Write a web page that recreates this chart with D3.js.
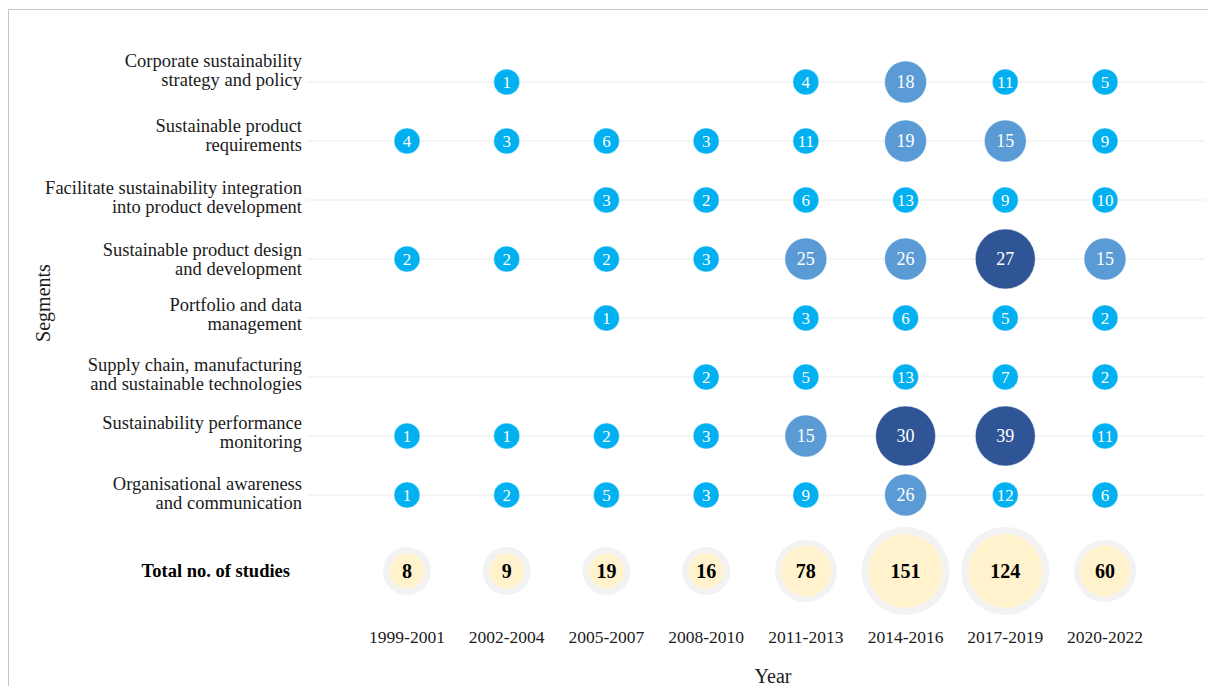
<!DOCTYPE html>
<html>
<head>
<meta charset="utf-8">
<script src="https://cdn.jsdelivr.net/npm/d3@7"></script>
<style>
  body { margin: 0; background: #fff; }
  svg { display: block; font-family: "Liberation Serif", "Times New Roman", serif; }
</style>
</head>
<body>
<svg id="chart"></svg>
<script>
// periods (x axis)
const years = ["1999-2001", "2002-2004", "2005-2007", "2008-2010", "2011-2013", "2014-2016", "2017-2019", "2020-2022"];

// segments (y axis), two lines each
const segments = [
    ["Corporate sustainability", "strategy and policy"],
    ["Sustainable product", "requirements"],
    ["Facilitate sustainability integration", "into product development"],
    ["Sustainable product design", "and development"],
    ["Portfolio and data", "management"],
    ["Supply chain, manufacturing", "and sustainable technologies"],
    ["Sustainability performance", "monitoring"],
    ["Organisational awareness", "and communication"]
];

// no. of studies per period, null = none
const corporateStrategy = [null, 1, null, null, 4, 18, 11, 5];
const productRequirements = [4, 3, 6, 3, 11, 19, 15, 9];
const integration = [null, null, 3, 2, 6, 13, 9, 10];
const designDevelopment = [2, 2, 2, 3, 25, 26, 27, 15];
const portfolioData = [null, null, 1, null, 3, 6, 5, 2];
const supplyChain = [null, null, null, 2, 5, 13, 7, 2];
const performanceMonitoring = [1, 1, 2, 3, 15, 30, 39, 11];
const awareness = [1, 2, 5, 3, 9, 26, 12, 6];

const totals = [8, 9, 19, 16, 78, 151, 124, 60];

const rows = [corporateStrategy, productRequirements, integration, designDevelopment,
    portfolioData, supplyChain, performanceMonitoring, awareness];

const width = 1208;
const height = 686;

const svg = d3.select("#chart")
    .attr("width", width)
    .attr("height", height);

// frame
svg.append("path")
    .attr("d", `M8.5,${height} V9.5 H${width}`)
    .attr("fill", "none")
    .attr("stroke", "#c4c4c4")
    .attr("stroke-width", 1);

const x = d3.scalePoint()
    .domain(years)
    .range([407, 1105]);

const y = d3.scalePoint()
    .domain(d3.range(segments.length))
    .range([82, 495]);

const totalY = 571;

// bubble size and colour classes
const r = d3.scaleThreshold()
    .domain([15, 27])
    .range([13, 21, 30]);

const color = d3.scaleThreshold()
    .domain([15, 27])
    .range(["#00b0f0", "#5b9bd5", "#2f5597"]);

const totalR = d3.scaleThreshold()
    .domain([50, 100])
    .range([24, 31, 44]);

const ring = d3.scaleThreshold()
    .domain([50, 100])
    .range([6.5, 5.5, 7]);

// grid lines
svg.append("g")
    .selectAll("line")
    .data(segments)
    .join("line")
    .attr("x1", 307)
    .attr("x2", 1205)
    .attr("y1", (d, i) => y(i))
    .attr("y2", (d, i) => y(i))
    .attr("stroke", "#f2f2f2")
    .attr("stroke-width", 1.5);

// segment labels (first one sits a bit higher in the original)
const labelShift = [-10, -4, -1, 2, -2, -1, -2, 0];

const labels = svg.append("g")
    .selectAll("text")
    .data(segments)
    .join("text")
    .attr("text-anchor", "end")
    .attr("font-size", 18.5)
    .attr("fill", "#1a1a1a")
    .attr("y", (d, i) => y(i) + labelShift[i]);

labels.selectAll("tspan")
    .data(d => d)
    .join("tspan")
    .attr("x", 302)
    .attr("dy", (d, i) => i == 0 ? "-0.28em" : "1.02em")
    .text(d => d);

// flatten to cells
const cells = [];
rows.forEach((row, i) => {
    row.forEach((v, j) => {
        if (v == null) return;
        cells.push({ row: i, year: years[j], value: v });
    });
});

const bubbles = svg.append("g")
    .selectAll("g")
    .data(cells)
    .join("g")
    .attr("transform", d => `translate(${x(d.year)},${y(d.row)})`);

bubbles.append("circle")
    .attr("r", d => r(d.value))
    .attr("fill", d => color(d.value))
    .attr("stroke", "#fff")
    .attr("stroke-opacity", 0.5)
    .attr("stroke-width", 1);

bubbles.append("text")
    .attr("text-anchor", "middle")
    .attr("dy", "0.34em")
    .attr("font-size", d => d.value >= 15 ? 18 : 17)
    .attr("fill", "#fff")
    .text(d => d.value);

// totals row
svg.append("text")
    .attr("x", 290)
    .attr("y", totalY)
    .attr("dy", "0.34em")
    .attr("text-anchor", "end")
    .attr("font-size", 18.5)
    .attr("font-weight", "bold")
    .attr("fill", "#000")
    .text("Total no. of studies");

const tot = svg.append("g")
    .selectAll("g")
    .data(totals)
    .join("g")
    .attr("transform", (d, i) => `translate(${x(years[i])},${totalY})`);

tot.append("circle")
    .attr("r", d => totalR(d))
    .attr("fill", "#f2f2f2");

tot.append("circle")
    .attr("r", d => totalR(d) - ring(d))
    .attr("fill", "#fff2cc");

tot.append("text")
    .attr("text-anchor", "middle")
    .attr("dy", "0.34em")
    .attr("font-size", 20)
    .attr("font-weight", "bold")
    .attr("fill", "#000")
    .text(d => d);

// x axis labels
svg.append("g")
    .selectAll("text")
    .data(years)
    .join("text")
    .attr("x", d => x(d))
    .attr("y", 637)
    .attr("dy", "0.34em")
    .attr("text-anchor", "middle")
    .attr("font-size", 17.5)
    .attr("fill", "#1a1a1a")
    .text(d => d);

// axis titles
svg.append("text")
    .attr("x", 773)
    .attr("y", 676)
    .attr("dy", "0.34em")
    .attr("text-anchor", "middle")
    .attr("font-size", 20)
    .attr("fill", "#1a1a1a")
    .text("Year");

svg.append("text")
    .attr("transform", "translate(43,303) rotate(-90)")
    .attr("dy", "0.34em")
    .attr("text-anchor", "middle")
    .attr("font-size", 20)
    .attr("fill", "#1a1a1a")
    .text("Segments");
</script>
</body>
</html>
